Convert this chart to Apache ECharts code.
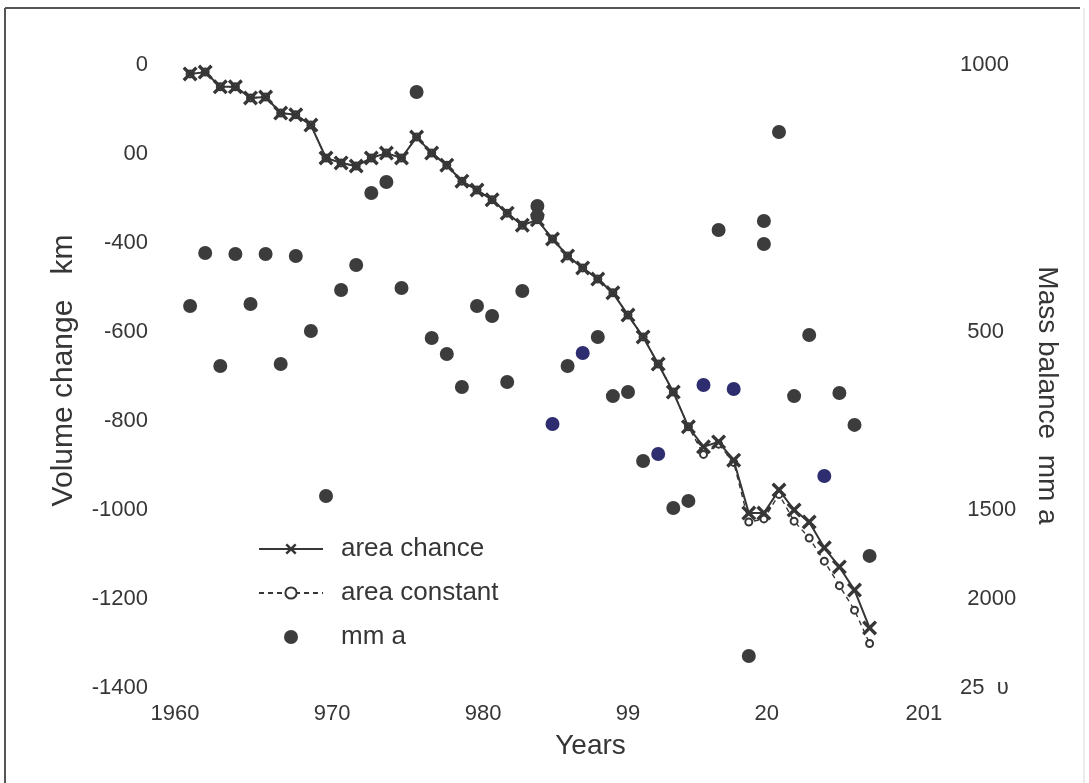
<!DOCTYPE html>
<html>
<head>
<meta charset="utf-8">
<script src="https://cdn.jsdelivr.net/npm/echarts@6/dist/echarts.min.js"></script>
<style>
html,body{margin:0;padding:0;background:#fff;}
#chart{width:1089px;height:783px;}
</style>
</head>
<body>
<div id="chart"></div>
<script>
// ---- data ----
var years = [1961,1962,1963,1964,1965,1966,1967,1968,1969,1970,
             1971,1972,1973,1974,1975,1976,1977,1978,1979,1980,
             1981,1982,1983,1984,1985,1986,1987,1988,1989,1990,
             1991,1992,1993,1994,1995,1996,1997,1998,1999,2000,
             2001,2002,2003,2004,2005,2006];
var areaChange = [-20,-16,-49,-49,-74,-72,-108,-112,-135,-209,
                  -220,-227,-209,-198,-209,-162,-198,-225,-261,-281,
                  -303,-333,-360,-348,-391,-429,-456,-481,-512,-562,
                  -611,-672,-735,-813,-858,-847,-888,-1007,-1007,-955,
                  -1000,-1027,-1085,-1128,-1180,-1265];
var areaConstant = [-20,-16,-49,-49,-74,-72,-108,-112,-135,-209,
                    -220,-227,-209,-198,-209,-162,-198,-225,-261,-281,
                    -303,-333,-360,-348,-391,-429,-456,-481,-512,-562,
                    -611,-672,-735,-813,-875,-852,-893,-1027,-1020,-965,
                    -1025,-1063,-1115,-1170,-1225,-1300];
var mbYears = [1961,1962,1963,1964,1965,1966,1967,1968,1969,1970,
               1971,1972,1973,1974,1975,1976,1977,1978,1979,1980,
               1981,1982,1983,1984,1984,1985,1986,1987,1988,1989,1990,
               1991,1992,1993,1994,1995,1996,1997,1998,1999,1999,2000,
               2001,2002,2003,2004,2005,2006];
var mbValues = [-354,-56,-691,-62,-343,-62,-680,-73,-494,-1421,
                -264,-124,281,343,-253,848,-534,-624,-809,-354,
                -410,-781,-270,208,152,-1017,-691,-618,-528,-860,-837,
                -1225,-1185,-1489,-1449,-798,73,-820,-2320,124,-6,624,
                -860,-517,-1309,-843,-1022,-1758];
var mbHighlightYears = [1985,1987,1992,1995,1997,2003];

// tick labels: the full label each tick would carry, and the part of it printed
var xTickValues = [1960,1970,1980,1990,2000,2010];
var xTickFull   = ['1960','1970','1980','1990','2000','2010'];
var xTickShown  = ['1960','970','980','99','20','201'];
var leftTickValues = [0,-200,-400,-600,-800,-1000,-1200,-1400];
var leftTickShown  = ['0','00','-400','-600','-800','-1000','-1200','-1400'];
var rightTickValues = [1000,500,0,-500,-1000,-1500,-2000,-2500];
var rightTickFull   = ['1000','500','0','-500','-1000','-1500','-2000','-2500'];
var rightTickShown  = ['1000','','','500','','1500','2000','25  \u03c5'];
var seriesNames = ['area chance','area constant','mm a'];

// ---- styling ----
var FONT = '"Liberation Sans", Arial, Helvetica, sans-serif';
var INK = '#363636';
var DOT = '#3c3c3c';
var DOT_BLUE = '#2d2d70';
var xMark = 'path://M0,1.6L1.6,0L5,3.4L8.4,0L10,1.6L6.6,5L10,8.4L8.4,10L5,6.6L1.6,10L0,8.4L3.4,5Z';
var tickRich = {
  v:{fontFamily:FONT,fontSize:22,color:INK},
  h:{fontFamily:FONT,fontSize:22,color:'rgba(0,0,0,0)'}
};
// print the shown part of a label, keeping it where it sits inside the full label
function partLabel(full, shown){
  if(!shown) return '';
  var at = full.indexOf(shown);
  if(at < 0) return '{v|'+shown+'}';
  var pre = full.slice(0,at), post = full.slice(at+shown.length);
  return (pre?'{h|'+pre+'}':'') + '{v|'+shown+'}' + (post?'{h|'+post+'}':'');
}

var chart = echarts.init(document.getElementById('chart'), null, {renderer:'canvas'});
var option = {
  animation:false,
  backgroundColor:'#ffffff',
  grid:{left:175,right:159,top:65,bottom:95},
  legend:{
    orient:'vertical', left:253, top:531,
    itemWidth:64, itemHeight:14, itemGap:18,
    textStyle:{fontFamily:FONT,fontSize:26,lineHeight:24,color:INK,padding:[0,0,0,13]},
    data:[
      {name:seriesNames[0]},
      {name:seriesNames[1]},
      {name:seriesNames[2], itemStyle:{color:DOT}}
    ]
  },
  xAxis:{
    type:'value', min:1960, max:2010, interval:10,
    axisLine:{show:false}, axisTick:{show:false}, splitLine:{show:false},
    axisLabel:{margin:15,rich:tickRich,
      formatter:function(v){
        var i = xTickValues.indexOf(v);
        return i>=0 ? partLabel(xTickFull[i], xTickShown[i]) : '';
      }},
    name:'Years', nameLocation:'middle', nameGap:44,
    nameTextStyle:{fontFamily:FONT,fontSize:28,color:INK,padding:[0,0,0,76]}
  },
  yAxis:[{
    type:'value', min:-1400, max:0, interval:200, position:'left',
    axisLine:{show:false}, axisTick:{show:false}, splitLine:{show:false},
    axisLabel:{margin:27,rich:tickRich,
      formatter:function(v){
        var i = leftTickValues.indexOf(v);
        return i>=0 ? '{v|'+leftTickShown[i]+'}' : '';
      }},
    name:'Volume change   km', nameLocation:'middle', nameGap:96, nameRotate:90,
    nameTextStyle:{fontFamily:FONT,fontSize:30,color:INK,padding:[0,0,0,12]}
  },{
    type:'value', min:-2500, max:1000, interval:500, position:'right',
    axisLine:{show:false}, axisTick:{show:false}, splitLine:{show:false},
    axisLabel:{margin:30,rich:tickRich,
      formatter:function(v){
        var i = rightTickValues.indexOf(v);
        return i>=0 ? partLabel(rightTickFull[i], rightTickShown[i]) : '';
      }},
    name:'Mass balance  mm a', nameLocation:'middle', nameGap:103, nameRotate:-90,
    nameTextStyle:{fontFamily:FONT,fontSize:28,color:INK,padding:[0,0,0,38]}
  }],
  series:[{
    name:seriesNames[1], type:'line', yAxisIndex:0, z:3,
    data:years.map(function(y,i){return [y,areaConstant[i]];}),
    symbol:'emptyCircle', symbolSize:7,
    lineStyle:{color:INK,width:1.4,type:[5,4]},
    itemStyle:{color:INK,borderColor:INK,borderWidth:1.3}
  },{
    name:seriesNames[0], type:'line', yAxisIndex:0, z:4,
    data:years.map(function(y,i){return [y,areaChange[i]];}),
    symbol:xMark, symbolSize:15,
    lineStyle:{color:INK,width:2},
    itemStyle:{color:INK}
  },{
    name:seriesNames[2], type:'scatter', yAxisIndex:1, z:5,
    data:mbYears.map(function(y,i){return [y,mbValues[i]];}),
    symbol:'circle', symbolSize:14,
    itemStyle:{
      opacity:1,
      color:function(p){return mbHighlightYears.indexOf(p.value[0])>=0 ? DOT_BLUE : DOT;}
    }
  }],
  graphic:[
    {type:'line',shape:{x1:5,y1:8,x2:1080,y2:8},style:{stroke:'#555',lineWidth:2}},
    {type:'line',shape:{x1:5,y1:8,x2:5,y2:783},style:{stroke:'#555',lineWidth:2}},
    {type:'line',shape:{x1:1084,y1:8,x2:1084,y2:783},style:{stroke:'#ececec',lineWidth:2}}
  ]
};
chart.setOption(option);
</script>
</body>
</html>
